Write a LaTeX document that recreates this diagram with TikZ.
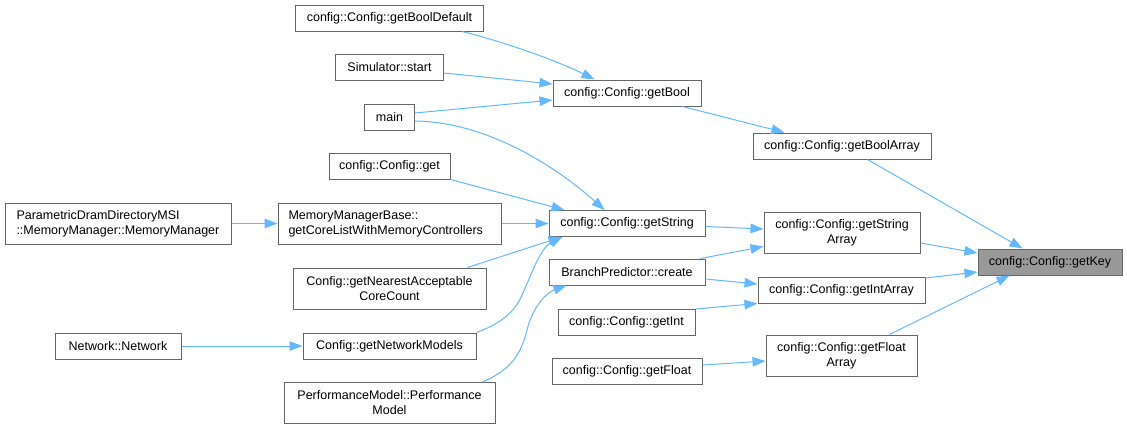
\documentclass[tikz,border=0pt]{standalone}
\usepackage{fontspec}
\setmainfont{Liberation Sans}
\usetikzlibrary{arrows.meta,calc}
\definecolor{edgec}{HTML}{63B8FF}
\definecolor{bordc}{HTML}{666666}
\definecolor{keyfill}{HTML}{999999}
\tikzset{
  box/.style={draw=bordc, line width=1pt, fill=white, inner sep=0pt, align=center,
    font=\fontsize{12.5}{15}\selectfont, text=black, minimum height=26pt},
  tall/.style={minimum height=41pt},
  leftbox/.style={align=left, text width=#1},
  keybox/.style={box, fill=keyfill},
  edge/.style={draw=edgec, line width=1pt, -{Triangle[length=13pt,width=9.5pt]}},
}
\begin{document}
\begin{tikzpicture}[x=1pt,y=-1pt]
\useasboundingbox (0,0) rectangle (1127,429);
% column 1
\node[box, minimum width=226pt, tall, leftbox=203pt] (pdm) at (118,223.5) {ParametricDramDirectoryMSI\\::MemoryManager::MemoryManager};
\node[box, minimum width=126pt] (net) at (118,346) {Network::Network};
% column 2
\node[box, minimum width=188pt] (bdef) at (389.5,18) {config::Config::getBoolDefault};
\node[box, minimum width=108pt] (sim) at (389.5,67) {Simulator::start};
\node[box, minimum width=50pt] (main) at (389.5,117) {main};
\node[box, minimum width=121pt] (get) at (389.5,166) {config::Config::get};
\node[box, minimum width=223pt, tall, leftbox=202pt] (mmb) at (389.5,223.5) {MemoryManagerBase::\\getCoreListWithMemoryControllers};
\node[box, minimum width=193pt, tall] (gna) at (389.5,288.5) {Config::getNearestAcceptable\\CoreCount};
\node[box, minimum width=173pt] (gnm) at (389.5,346) {Config::getNetworkModels};
\node[box, minimum width=211pt, tall] (pm) at (389.5,403) {PerformanceModel::Performance\\Model};
% column 3
\node[box, minimum width=148pt] (gbool) at (627,93) {config::Config::getBool};
\node[box, minimum width=156pt] (gstr) at (627,223.5) {config::Config::getString};
\node[box, minimum width=156pt] (bpc) at (627,272) {BranchPredictor::create};
\node[box, minimum width=137pt] (gint) at (626.5,322.5) {config::Config::getInt};
\node[box, minimum width=150pt] (gflt) at (627,371.5) {config::Config::getFloat};
% column 4
\node[box, minimum width=178pt] (gba) at (842,146) {config::Config::getBoolArray};
\node[box, minimum width=156pt, tall] (gsa) at (842,232.5) {config::Config::getString\\Array};
\node[box, minimum width=167pt] (gia) at (841.5,290) {config::Config::getIntArray};
\node[box, minimum width=151pt, tall] (gfa) at (841.5,355.5) {config::Config::getFloat\\Array};
% column 5
\node[keybox, minimum width=144pt] (key) at (1050,262) {config::Config::getKey};

% edges
\draw[edge] ($(bdef.south west)+(167,0)$) .. controls (505,42) and (560,62) .. ($(gbool.north west)+(42,0)$);
\draw[edge] ($(sim.east)+(0,6)$) -- ($(gbool.west)+(0,-9)$);
\draw[edge] ($(main.east)+(0,-4)$) -- ($(gbool.west)+(0,7)$);
\draw[edge] ($(main.east)+(0,4)$) .. controls (490,122) and (560,170) .. ($(gstr.north west)+(56,0)$);
\draw[edge] (get.south east) -- ($(gstr.north west)+(16,0)$);
\draw[edge] (mmb.east) -- (gstr.west);
\draw[edge] (pdm.east) -- (mmb.west);
\draw[edge] ($(gna.north east)+(-19,0)$) -- ($(gstr.south west)+(13,0)$);
\coordinate (j1) at (522,295);
\draw[edge] (gnm.north east) .. controls (500,324) and (515,312) .. (j1)
   .. controls (530,278) and (540,248) .. ($(gstr.south west)+(14,0)$);
\coordinate (j2) at (527,330);
\draw[edge] ($(pm.north east)+(-13,0)$) .. controls (505,372) and (520,360) .. (j2)
   .. controls (533,305) and (548,292) .. ($(bpc.south west)+(18,0)$);
\draw[edge] ($(gstr.east)+(0,3)$) -- ($(gsa.west)+(0,-3.5)$);
\draw[edge] ($(bpc.north east)+(-5,0)$) -- ($(gsa.west)+(0,14)$);
\draw[edge] ($(bpc.east)+(0,7)$) -- ($(gia.west)+(0,-6)$);
\draw[edge] (gint.north east) -- (gia.south west);
\draw[edge] ($(gflt.east)+(0,-6.5)$) -- ($(gfa.west)+(0,5.5)$);
\draw[edge] ($(gba.south west)+(115,0)$) -- ($(key.north west)+(45,0)$);
\draw[edge] ($(gsa.east)+(0,10.5)$) -- ($(key.west)+(0,-9)$);
\draw[edge] ($(gia.east)+(0,-12)$) -- ($(key.west)+(0,10)$);
\draw[edge] ($(gfa.north west)+(124,0)$) -- ($(key.south west)+(32,0)$);
\draw[edge] ($(gbool.south east)+(-19,0)$) -- ($(gba.north west)+(32,0)$);
\draw[edge] (net.east) -- (gnm.west);
\end{tikzpicture}
\end{document}
